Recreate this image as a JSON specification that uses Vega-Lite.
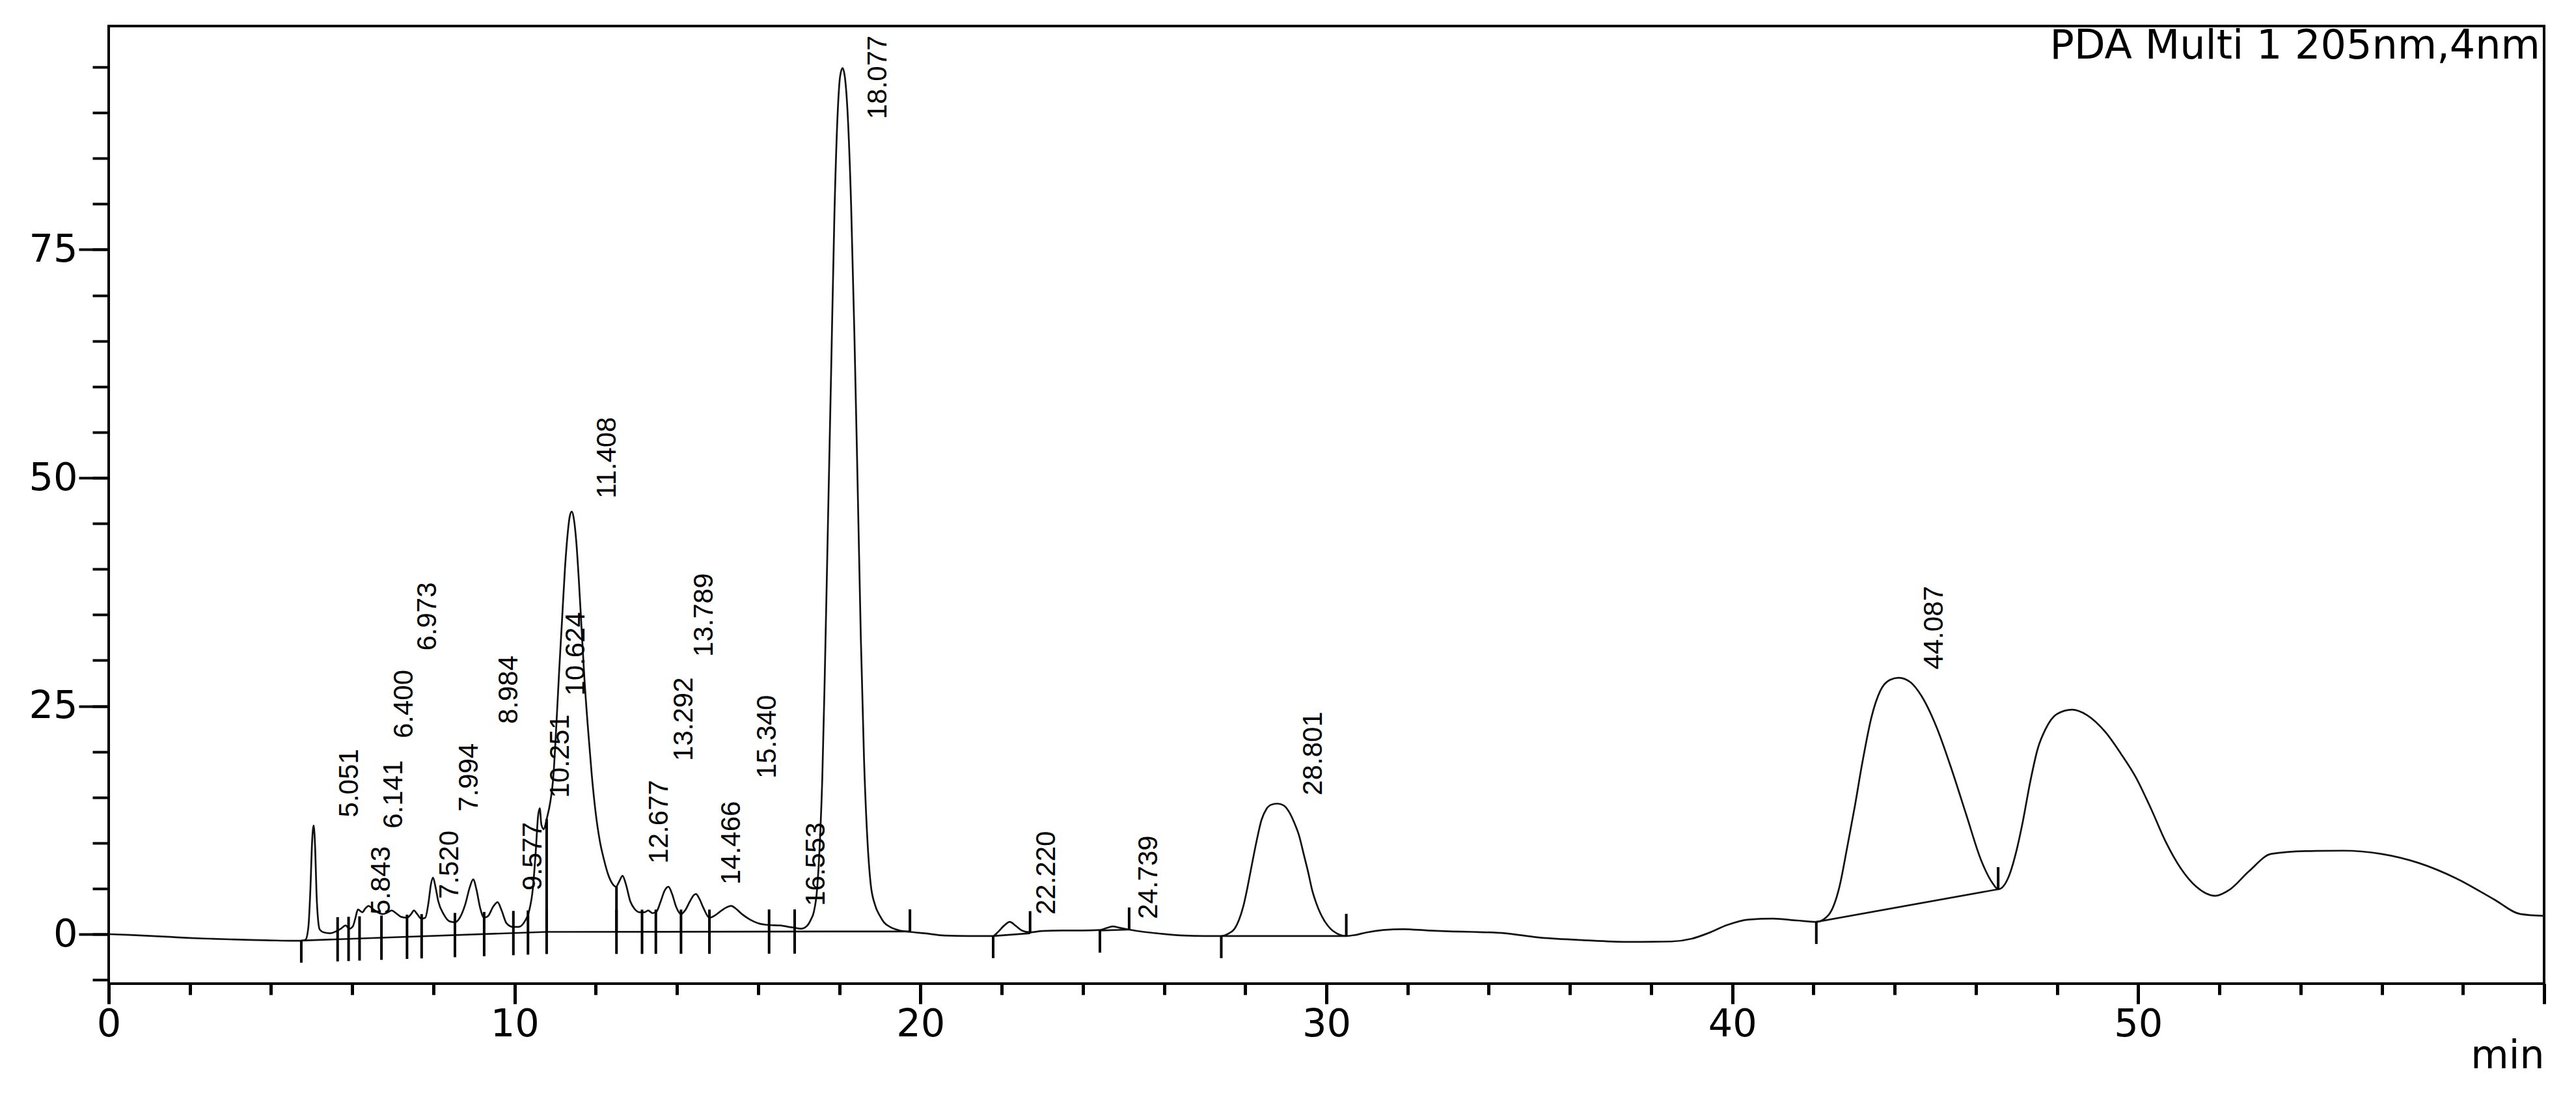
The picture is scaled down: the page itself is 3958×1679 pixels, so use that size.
{
  "$schema": "https://vega.github.io/schema/vega-lite/v6.json",
  "width": 3742,
  "height": 1471,
  "autosize": {"type": "none"},
  "padding": {"left": 167, "top": 40, "right": 49, "bottom": 168},
  "background": "white",
  "config": {
    "view": {"stroke": "black", "strokeWidth": 4},
    "axis": {"grid": false, "domain": false, "tickColor": "black", "labelColor": "black", "labelFont": "DejaVu Sans", "labelFontSize": 59, "titleColor": "black"}
  },
  "resolve": {"axis": {"x": "independent", "y": "independent"}},
  "datasets": {
    "trace": [
      {"t":0,"v":0.0},{"t":0.5,"v":-0.08},{"t":1.0,"v":-0.18},{"t":1.5,"v":-0.3},{"t":2.0,"v":-0.42},{"t":2.5,"v":-0.5},{"t":3.0,"v":-0.57},{"t":3.5,"v":-0.63},{"t":4.0,"v":-0.68},{"t":4.5,"v":-0.72},{"t":4.75,"v":-0.72},
      {"t":4.85,"v":-0.6},{"t":4.92,"v":0.8},{"t":4.97,"v":5.0},{"t":5.01,"v":10.0},{"t":5.05,"v":11.9},{"t":5.09,"v":9.0},{"t":5.12,"v":4.5},{"t":5.16,"v":1.5},{"t":5.2,"v":0.5},{"t":5.3,"v":0.2},
      {"t":5.45,"v":0.1},{"t":5.6,"v":0.3},{"t":5.72,"v":0.6},{"t":5.84,"v":0.95},{"t":5.93,"v":0.6},{"t":6.02,"v":0.9},{"t":6.08,"v":1.8},{"t":6.14,"v":2.7},{"t":6.25,"v":2.4},{"t":6.32,"v":2.8},{"t":6.4,"v":3.1},{"t":6.5,"v":2.8},{"t":6.62,"v":2.4},{"t":6.75,"v":2.2},{"t":6.88,"v":2.4},{"t":6.97,"v":2.6},{"t":7.08,"v":2.3},{"t":7.2,"v":1.9},{"t":7.35,"v":1.8},{"t":7.45,"v":2.2},{"t":7.52,"v":2.6},{"t":7.6,"v":2.2},{"t":7.7,"v":1.7},{"t":7.8,"v":1.8},{"t":7.88,"v":3.5},{"t":7.94,"v":5.5},{"t":7.99,"v":6.2},{"t":8.05,"v":5.2},{"t":8.12,"v":3.6},{"t":8.25,"v":2.2},{"t":8.4,"v":1.4},{"t":8.53,"v":1.3},{"t":8.65,"v":1.8},{"t":8.78,"v":3.2},{"t":8.9,"v":5.2},{"t":8.98,"v":6.0},{"t":9.06,"v":4.9},{"t":9.15,"v":2.9},{"t":9.25,"v":1.8},{"t":9.35,"v":2.0},{"t":9.47,"v":3.0},{"t":9.58,"v":3.5},{"t":9.68,"v":2.6},{"t":9.8,"v":1.2},{"t":9.95,"v":0.8},{"t":10.1,"v":0.8},{"t":10.25,"v":1.4},{"t":10.35,"v":2.4},{"t":10.45,"v":5.0},{"t":10.52,"v":9.0},{"t":10.58,"v":13.0},{"t":10.62,"v":13.8},{"t":10.66,"v":12.0},{"t":10.72,"v":11.5},{"t":10.79,"v":12.6},{"t":10.88,"v":14.5},{"t":10.95,"v":17.0},{"t":11.03,"v":23.0},{"t":11.1,"v":29.0},{"t":11.17,"v":34.5},{"t":11.24,"v":40.0},{"t":11.31,"v":44.0},{"t":11.36,"v":45.8},{"t":11.41,"v":46.3},{"t":11.46,"v":45.5},{"t":11.52,"v":43.0},{"t":11.58,"v":39.0},{"t":11.65,"v":33.5},{"t":11.72,"v":28.0},{"t":11.8,"v":23.0},{"t":11.9,"v":17.5},{"t":12.0,"v":13.2},{"t":12.1,"v":10.2},{"t":12.2,"v":8.2},{"t":12.3,"v":6.6},{"t":12.4,"v":5.6},{"t":12.5,"v":5.2},{"t":12.58,"v":5.8},{"t":12.66,"v":6.4},{"t":12.74,"v":5.5},{"t":12.85,"v":3.6},{"t":12.95,"v":2.8},{"t":13.08,"v":2.4},{"t":13.2,"v":2.4},{"t":13.29,"v":2.6},{"t":13.4,"v":2.3},{"t":13.5,"v":2.5},{"t":13.6,"v":3.6},{"t":13.7,"v":4.8},{"t":13.79,"v":5.2},{"t":13.88,"v":4.4},{"t":13.98,"v":3.0},{"t":14.1,"v":2.2},{"t":14.2,"v":2.6},{"t":14.32,"v":3.6},{"t":14.42,"v":4.3},{"t":14.47,"v":4.4},{"t":14.55,"v":3.9},{"t":14.65,"v":2.9},{"t":14.8,"v":1.8},{"t":14.95,"v":2.1},{"t":15.1,"v":2.6},{"t":15.25,"v":3.0},{"t":15.34,"v":3.1},{"t":15.45,"v":2.8},{"t":15.6,"v":2.2},{"t":15.8,"v":1.6},{"t":16.0,"v":1.2},{"t":16.27,"v":1.0},{"t":16.55,"v":0.95},{"t":16.75,"v":0.8},{"t":16.9,"v":0.7},{"t":17.05,"v":0.6},{"t":17.2,"v":0.9},{"t":17.3,"v":1.6},{"t":17.37,"v":2.4},{"t":17.45,"v":4.8},{"t":17.52,"v":10.0},{"t":17.58,"v":17.0},{"t":17.64,"v":28.0},{"t":17.72,"v":45.0},{"t":17.8,"v":62.0},{"t":17.88,"v":79.0},{"t":17.96,"v":90.0},{"t":18.02,"v":94.0},{"t":18.08,"v":94.9},{"t":18.14,"v":93.8},{"t":18.21,"v":89.5},{"t":18.29,"v":80.0},{"t":18.37,"v":66.0},{"t":18.45,"v":49.5},{"t":18.53,"v":32.5},{"t":18.61,"v":19.0},{"t":18.69,"v":10.5},{"t":18.77,"v":5.6},{"t":18.88,"v":3.2},{"t":19.0,"v":2.0},{"t":19.1,"v":1.3},{"t":19.25,"v":0.8},{"t":19.45,"v":0.45},{"t":19.74,"v":0.25},{"t":20.1,"v":0.1},{"t":20.6,"v":-0.15},{"t":21.2,"v":-0.2},{"t":21.79,"v":-0.2},{"t":21.9,"v":0.2},{"t":22.05,"v":0.9},{"t":22.2,"v":1.35},{"t":22.35,"v":0.9},{"t":22.5,"v":0.4},{"t":22.7,"v":0.2},{"t":23.0,"v":0.35},{"t":23.5,"v":0.4},{"t":24.0,"v":0.4},{"t":24.42,"v":0.45},{"t":24.6,"v":0.7},{"t":24.74,"v":0.85},{"t":24.9,"v":0.7},{"t":25.14,"v":0.5},{"t":25.5,"v":0.25},{"t":25.93,"v":0.05},{"t":26.5,"v":-0.15},{"t":27.0,"v":-0.2},{"t":27.41,"v":-0.2},{"t":27.6,"v":0.1},{"t":27.74,"v":0.6},{"t":27.85,"v":1.6},{"t":27.95,"v":3.0},{"t":28.05,"v":5.0},{"t":28.15,"v":7.3},{"t":28.28,"v":10.2},{"t":28.4,"v":12.5},{"t":28.52,"v":13.7},{"t":28.65,"v":14.2},{"t":28.8,"v":14.3},{"t":28.95,"v":14.1},{"t":29.08,"v":13.4},{"t":29.2,"v":12.3},{"t":29.32,"v":10.9},{"t":29.45,"v":8.6},{"t":29.55,"v":6.8},{"t":29.65,"v":4.8},{"t":29.75,"v":3.4},{"t":29.85,"v":2.3},{"t":29.96,"v":1.4},{"t":30.1,"v":0.6},{"t":30.25,"v":0.1},{"t":30.49,"v":-0.2},{"t":30.7,"v":-0.1},{"t":31.0,"v":0.2},{"t":31.4,"v":0.45},{"t":31.9,"v":0.55},{"t":32.5,"v":0.4},{"t":33.1,"v":0.3},{"t":33.6,"v":0.25},{"t":34.4,"v":0.1},{"t":35.2,"v":-0.35},{"t":36.3,"v":-0.65},{"t":37.4,"v":-0.85},{"t":38.5,"v":-0.8},{"t":39.0,"v":-0.5},{"t":39.4,"v":0.1},{"t":39.87,"v":1.0},{"t":40.4,"v":1.6},{"t":41.0,"v":1.7},{"t":41.6,"v":1.5},{"t":42.07,"v":1.35},{"t":42.37,"v":2.1},{"t":42.64,"v":5.2},{"t":42.83,"v":9.5},{"t":43.01,"v":13.8},{"t":43.2,"v":18.7},{"t":43.43,"v":23.8},{"t":43.65,"v":26.7},{"t":43.88,"v":27.85},{"t":44.1,"v":28.1},{"t":44.39,"v":27.6},{"t":44.66,"v":26.1},{"t":45.03,"v":22.7},{"t":45.4,"v":18.1},{"t":45.77,"v":13.0},{"t":46.13,"v":8.1},{"t":46.41,"v":5.6},{"t":46.55,"v":4.92},{"t":46.79,"v":6.1},{"t":47.02,"v":9.5},{"t":47.16,"v":12.4},{"t":47.34,"v":16.7},{"t":47.53,"v":20.4},{"t":47.71,"v":22.4},{"t":47.99,"v":24.1},{"t":48.37,"v":24.6},{"t":48.74,"v":24.0},{"t":49.2,"v":22.1},{"t":49.57,"v":19.8},{"t":49.94,"v":17.2},{"t":50.31,"v":13.8},{"t":50.68,"v":10.1},{"t":51.05,"v":7.2},{"t":51.43,"v":5.2},{"t":51.89,"v":4.2},{"t":52.26,"v":4.9},{"t":52.73,"v":6.9},{"t":53.28,"v":8.8},{"t":54.12,"v":9.1},{"t":55.05,"v":9.15},{"t":55.98,"v":8.8},{"t":56.91,"v":7.8},{"t":57.84,"v":6.1},{"t":58.77,"v":3.8},{"t":59.42,"v":2.2},{"t":60.0,"v":2.0}
    ],
    "peaks": [
      {"label":"5.051","t":5.051,"ly":11.88},{"label":"5.843","t":5.843,"ly":1.21},{"label":"6.141","t":6.141,"ly":10.64},{"label":"6.400","t":6.4,"ly":20.54},{"label":"6.973","t":6.973,"ly":30.13},{"label":"7.520","t":7.52,"ly":2.92},{"label":"7.994","t":7.994,"ly":12.5},{"label":"8.984","t":8.984,"ly":22.11},{"label":"9.577","t":9.577,"ly":3.85},{"label":"10.251","t":10.251,"ly":14.0},{"label":"10.624","t":10.624,"ly":25.2},{"label":"11.408","t":11.408,"ly":46.8},{"label":"12.677","t":12.677,"ly":6.8},{"label":"13.292","t":13.292,"ly":18.05},{"label":"13.789","t":13.789,"ly":29.46},{"label":"14.466","t":14.466,"ly":4.49},{"label":"15.340","t":15.34,"ly":16.12},{"label":"16.553","t":16.553,"ly":2.15},{"label":"18.077","t":18.077,"ly":88.37},{"label":"22.220","t":22.22,"ly":1.21},{"label":"24.739","t":24.739,"ly":0.73},{"label":"28.801","t":28.801,"ly":14.29},{"label":"44.087","t":44.087,"ly":28.06}
    ],
    "marks": [
      {"t":4.745,"base":-0.7,"k":"s"},{"t":5.64,"base":-0.56,"k":"b"},{"t":5.91,"base":-0.52,"k":"b"},{"t":6.18,"base":-0.47,"k":"b"},{"t":6.72,"base":-0.39,"k":"b"},{"t":7.35,"base":-0.29,"k":"b"},{"t":7.71,"base":-0.23,"k":"b"},{"t":8.53,"base":-0.1,"k":"b"},{"t":9.25,"base":0.01,"k":"b"},{"t":9.97,"base":0.12,"k":"b"},{"t":10.33,"base":0.18,"k":"b"},{"t":10.79,"base":0.25,"k":"b"},{"t":12.51,"base":0.26,"k":"b"},{"t":13.14,"base":0.26,"k":"b"},{"t":13.48,"base":0.27,"k":"b"},{"t":14.1,"base":0.27,"k":"b"},{"t":14.8,"base":0.27,"k":"b"},{"t":16.27,"base":0.28,"k":"b"},{"t":16.9,"base":0.29,"k":"b"},{"t":19.74,"base":0.3,"k":"e"},
      {"t":21.79,"base":-0.2,"k":"s"},{"t":22.7,"base":0.1,"k":"e"},{"t":24.42,"base":0.4,"k":"s"},{"t":25.14,"base":0.5,"k":"e"},{"t":27.41,"base":-0.2,"k":"s"},{"t":30.49,"base":-0.2,"k":"e"},{"t":42.07,"base":1.35,"k":"s"},{"t":46.55,"base":4.92,"k":"e"}
    ],
    "base": [
      {"seg":"a","t":4.745,"v":-0.7},{"seg":"a","t":10.79,"v":0.25},
      {"seg":"b","t":10.79,"v":0.25},{"seg":"b","t":19.74,"v":0.3},
      {"seg":"c","t":21.79,"v":-0.2},{"seg":"c","t":22.7,"v":0.1},
      {"seg":"d","t":24.42,"v":0.4},{"seg":"d","t":25.14,"v":0.5},
      {"seg":"e","t":27.41,"v":-0.2},{"seg":"e","t":30.49,"v":-0.2},
      {"seg":"f","t":42.07,"v":1.35},{"seg":"f","t":46.55,"v":4.92}
    ],
    "drops": [
      {"t":10.79,"base":0.25,"top":12.6},{"t":12.51,"base":0.26,"top":5.2}
    ]
  },
  "layer": [
    {
      "data": {"name": "trace"},
      "mark": {"type": "line", "color": "#111111", "strokeWidth": 2.7, "interpolate": "monotone"},
      "encoding": {
        "x": {"field": "t", "type": "quantitative", "scale": {"domain": [0, 60], "nice": false, "zero": false},
          "axis": {
            "orient": "bottom",
            "values": [0,10,20,30,40,50,60],
            "labelExpr": "datum.value < 60 ? datum.label : ''",
            "tickSize": 31, "tickWidth": 5, "labelPadding": 2, "labelFlush": false, "labelOverlap": false,
            "title": "min", "titleX": 3742, "titleY": 129, "titleAlign": "right", "titleAnchor": "end", "titleBaseline": "alphabetic",
            "titleFont": "DejaVu Sans", "titleFontSize": 60, "titleFontWeight": "normal"
          }},
        "y": {"field": "v", "type": "quantitative", "scale": {"domain": [-5.42, 99.5], "nice": false, "zero": false},
          "axis": {
            "orient": "left",
            "values": [0,25,50,75],
            "tickSize": 46, "tickWidth": 4, "labelPadding": 2, "labelFlush": false, "labelOverlap": false, "title": null
          }}
      }
    },
    {
      "data": {"name": "base"},
      "mark": {"type": "line", "color": "#111111", "strokeWidth": 2.7},
      "encoding": {
        "x": {"field": "t", "type": "quantitative", "scale": {"domain": [0, 60], "nice": false, "zero": false},
          "axis": {"orient": "bottom", "values": [0,2,4,6,8,10,12,14,16,18,20,22,24,26,28,30,32,34,36,38,40,42,44,46,48,50,52,54,56,58,60], "tickSize": 17, "tickWidth": 5, "labels": false, "title": null}},
        "y": {"field": "v", "type": "quantitative", "scale": {"domain": [-5.42, 99.5], "nice": false, "zero": false},
          "axis": {"orient": "left", "values": [-5,0,5,10,15,20,25,30,35,40,45,50,55,60,65,70,75,80,85,90,95], "tickSize": 25, "tickWidth": 4, "labels": false, "title": null}},
        "detail": {"field": "seg"}
      }
    },
    {
      "data": {"name": "drops"},
      "mark": {"type": "rule", "color": "black", "strokeWidth": 4},
      "encoding": {
        "x": {"field": "t", "type": "quantitative", "scale": {"domain": [0, 60], "nice": false, "zero": false}, "axis": null},
        "y": {"field": "base", "type": "quantitative", "scale": {"domain": [-5.42, 99.5], "nice": false, "zero": false}, "axis": null},
        "y2": {"field": "top"}
      }
    },
    {
      "data": {"name": "marks"},
      "transform": [{"filter": "datum.k != 'e'"}],
      "mark": {"type": "tick", "orient": "vertical", "size": 34, "thickness": 4, "yOffset": 17, "color": "black", "opacity": 1},
      "encoding": {
        "x": {"field": "t", "type": "quantitative", "scale": {"domain": [0, 60], "nice": false, "zero": false}, "axis": null},
        "y": {"field": "base", "type": "quantitative", "scale": {"domain": [-5.42, 99.5], "nice": false, "zero": false}, "axis": null}
      }
    },
    {
      "data": {"name": "marks"},
      "transform": [{"filter": "datum.k != 's'"}],
      "mark": {"type": "tick", "orient": "vertical", "size": 34, "thickness": 4, "yOffset": -17, "color": "black", "opacity": 1},
      "encoding": {
        "x": {"field": "t", "type": "quantitative", "scale": {"domain": [0, 60], "nice": false, "zero": false}, "axis": null},
        "y": {"field": "base", "type": "quantitative", "scale": {"domain": [-5.42, 99.5], "nice": false, "zero": false}, "axis": null}
      }
    },
    {
      "data": {"name": "peaks"},
      "mark": {"type": "text", "angle": 270, "align": "left", "baseline": "middle", "dx": 13, "dy": 55, "font": "Liberation Sans", "fontSize": 42, "color": "black"},
      "encoding": {
        "x": {"field": "t", "type": "quantitative", "scale": {"domain": [0, 60], "nice": false, "zero": false}, "axis": null},
        "y": {"field": "ly", "type": "quantitative", "scale": {"domain": [-5.42, 99.5], "nice": false, "zero": false}, "axis": null},
        "text": {"field": "label"}
      }
    },
    {
      "data": {"values": [{"txt": "PDA Multi 1 205nm,4nm"}]},
      "mark": {"type": "text", "align": "right", "baseline": "alphabetic", "dx": -6, "font": "DejaVu Sans", "fontSize": 62, "color": "black"},
      "encoding": {
        "x": {"datum": 60, "type": "quantitative", "scale": {"domain": [0, 60], "nice": false, "zero": false}, "axis": null},
        "y": {"datum": 95.9, "type": "quantitative", "scale": {"domain": [-5.42, 99.5], "nice": false, "zero": false}, "axis": null},
        "text": {"field": "txt"}
      }
    }
  ]
}
